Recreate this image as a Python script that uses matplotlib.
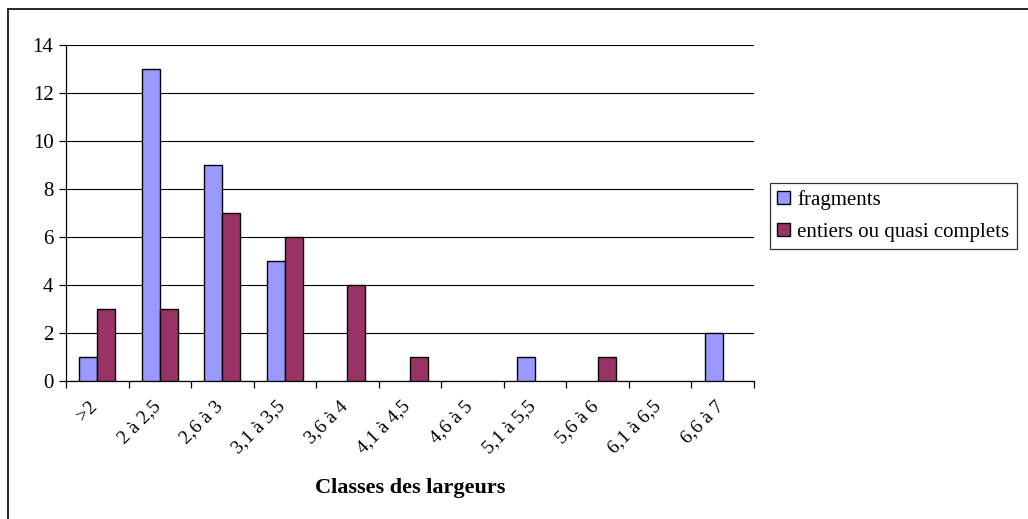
import numpy as np
import matplotlib
matplotlib.use("Agg")
import matplotlib.pyplot as plt
from matplotlib.patches import Rectangle

plt.rcParams.update({'font.family': ['Liberation Serif', 'DejaVu Serif'], 'font.size': 13})

classes = ['>2', '2 à 2,5', '2,6 à 3', '3,1 à 3,5', '3,6 à 4', '4,1 à 4,5',
           '4,6 à 5', '5,1 à 5,5', '5,6 à 6', '6,1 à 6,5', '6,6 à 7']
fragments = [1, 13, 9, 5, 0, 0, 0, 1, 0, 0, 2]
entiers = [3, 3, 7, 6, 4, 1, 0, 0, 1, 0, 0]

fig = plt.figure(figsize=(10.28, 5.19), dpi=100)
ax = fig.add_axes([66/1028, 1-381/519, (754-66)/1028, (381-45)/519])

x = np.arange(len(classes)) + 0.5
w = 1/3.5
# empty classes get no outline, so nothing shows on the baseline
ax.bar(x - w/2, fragments, width=w, color='#9999FF', linewidth=1.0,
       edgecolor=['black' if v else 'none' for v in fragments], label='fragments', zorder=3)
ax.bar(x + w/2, entiers, width=w, color='#993366', linewidth=1.0,
       edgecolor=['black' if v else 'none' for v in entiers],
       label='entiers ou quasi complets', zorder=3)

ax.set_xlim(0, len(classes))
ax.set_ylim(0, 14)
ax.set_yticks(range(0, 15, 2))
ax.yaxis.grid(True, color='black', linewidth=0.8, zorder=0)
ax.set_axisbelow(True)
ax.spines['top'].set_visible(False)
ax.spines['right'].set_visible(False)
ax.spines['left'].set_linewidth(0.9)
ax.spines['bottom'].set_linewidth(0.9)
ax.tick_params(axis='y', direction='out', length=5, width=0.9, labelsize=15, pad=4)

# category boundaries carry the ticks, names sit at the centres
ax.set_xticks(np.arange(len(classes) + 1))
ax.set_xticklabels([])
ax.tick_params(axis='x', direction='out', length=5, width=0.9)
for xi, lab in zip(x, classes):
    ax.annotate(lab, xy=(xi, 0), xycoords=('data', 'axes fraction'),
                xytext=(-6, -12), textcoords='offset points',
                rotation=45, ha='right', va='top', rotation_mode='anchor', fontsize=14)

fig.text(410/1028, 1-488/519, 'Classes des largeurs', ha='center', va='center',
         fontsize=16, fontweight='bold')

leg = fig.legend(loc='upper left', bbox_to_anchor=(770/1028, 1-183/519), frameon=True,
                 fancybox=False, edgecolor='black', fontsize=15, handlelength=0.6,
                 handleheight=0.6, handletextpad=0.35, borderpad=0.35, labelspacing=0.6,
                 borderaxespad=0)
leg.get_frame().set_linewidth(0.9)

# outer chart frame
fig.patches.append(Rectangle((8/1028, -0.02), 1.1, 1-9/519 + 0.02, transform=fig.transFigure,
                             fill=False, edgecolor='black', linewidth=1.2))

fig.savefig('out.png', dpi=100)
